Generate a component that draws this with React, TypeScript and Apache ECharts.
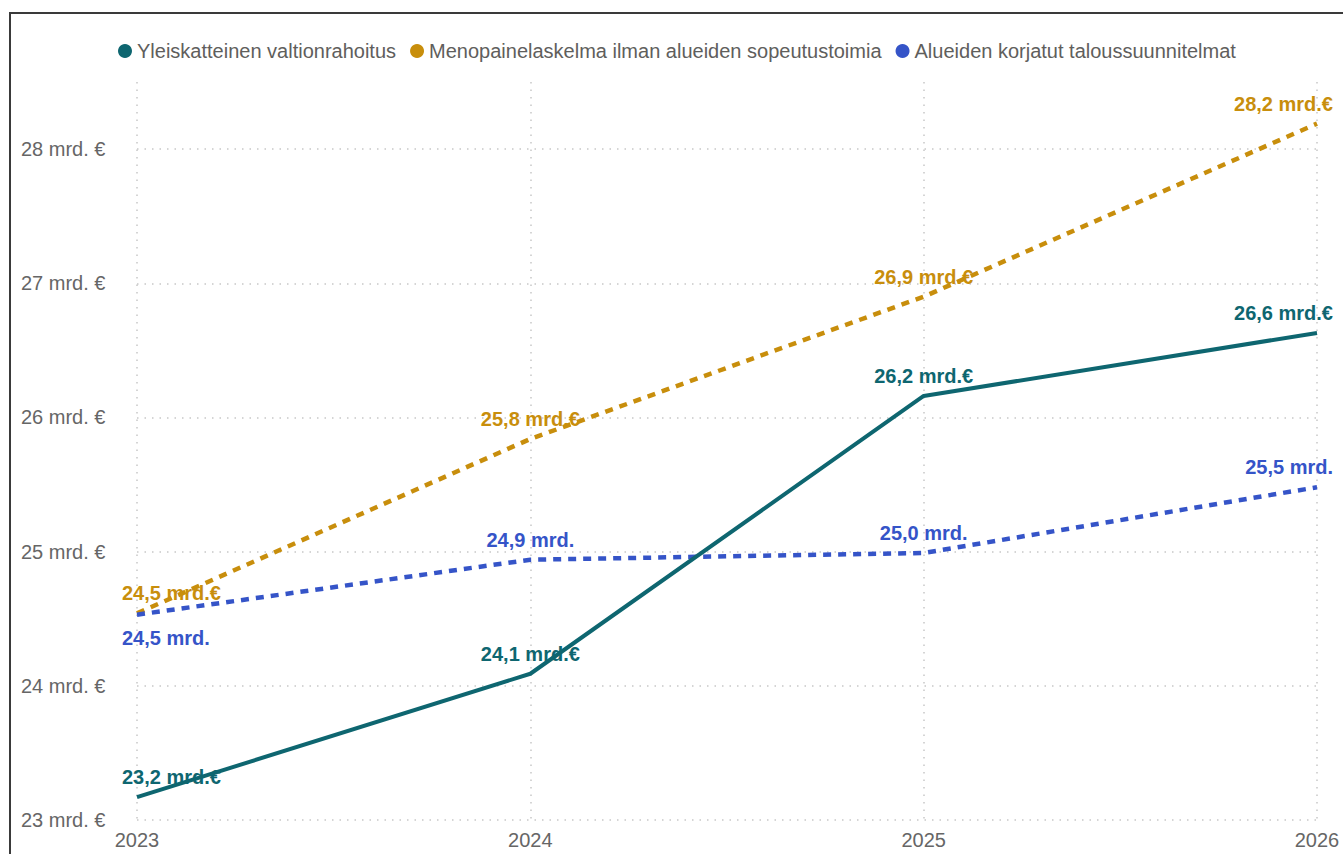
import React, { useEffect, useRef } from "react";
import * as echarts from "echarts";

const years = ["2023", "2024", "2025", "2026"];
const yleiskatteinen = [23.17, 24.09, 26.16, 26.63];
const menopaine = [24.54, 25.84, 26.9, 28.19];
const korjatut = [24.53, 24.94, 24.99, 25.48];
const seriesNames = [
  "Yleiskatteinen valtionrahoitus",
  "Menopainelaskelma ilman alueiden sopeutustoimia",
  "Alueiden korjatut taloussuunnitelmat",
];
const yTicks = [23, 24, 25, 26, 27, 28];

const TEAL = "#0E6670";
const GOLD = "#C88E0C";
const BLUE = "#3554C8";

const fmt = (v: number, suffix: string) => v.toFixed(1).replace(".", ",") + suffix;

function buildData(values: number[], suffix: string, below: boolean) {
  return values.map((v, i) => {
    const label: any = {};
    if (i === 0) {
      label.align = "left";
      label.offset = [-15, 0];
    } else if (i === values.length - 1) {
      label.align = "right";
      label.offset = [16, 0];
    }
    if (below && i === 0) {
      label.position = "bottom";
      label.distance = 13;
    }
    return { value: v, label };
  });
}

export default function App() {
  const ref = useRef<HTMLDivElement>(null);
  useEffect(() => {
    if (!ref.current) return;
    const chart = echarts.init(ref.current, null, { renderer: "svg" });
    const labelBase = (color: string, suffix: string) => ({
      show: true,
      position: "top",
      distance: 10,
      color,
      fontSize: 20,
      fontWeight: "bold",
      fontFamily: "Liberation Sans, Arial, sans-serif",
      formatter: (p: any) => fmt(p.value, suffix),
    });
    chart.setOption({
      animation: false,
      textStyle: { fontFamily: "Liberation Sans, Arial, sans-serif" },
      graphic: [
        {
          type: "rect",
          shape: { x: 10, y: 13, width: 1500, height: 1000 },
          style: { fill: "none", stroke: "#3a3a3a", lineWidth: 2 },
          silent: true,
        },
      ],
      legend: {
        top: 36,
        left: 113,
        icon: "circle",
        itemWidth: 14,
        itemHeight: 14,
        itemGap: 14,
        textStyle: { fontSize: 20, color: "#605E5C", fontFamily: "Liberation Sans, Arial, sans-serif" },
        data: seriesNames,
      },
      grid: { left: 137, right: 26, top: 82, bottom: 34, containLabel: false },
      xAxis: {
        type: "category",
        data: years,
        boundaryGap: false,
        axisLine: { show: false },
        axisTick: { show: false },
        axisLabel: { fontSize: 20, color: "#666666", margin: 10 },
        splitLine: {
          show: true,
          lineStyle: { color: "#c8c8c8", type: [1.5, 6], width: 1.5 },
        },
      },
      yAxis: {
        type: "value",
        min: 23,
        max: 28.5,
        interval: 1,
        axisLine: { show: false },
        axisTick: { show: false },
        axisLabel: {
          fontSize: 20,
          color: "#666666",
          align: "left",
          margin: 116,
          showMaxLabel: false,
          formatter: (v: number) => (yTicks.includes(v) ? `${v} mrd. €` : ""),
        },
        splitLine: {
          show: true,
          showMaxLine: false,
          showMinLine: true,
          lineStyle: { color: "#c8c8c8", type: [1.5, 6], width: 1.5 },
        },
      },
      series: [
        {
          name: seriesNames[1],
          type: "line",
          data: buildData(menopaine, " mrd.€", false),
          symbol: "circle",
          symbolSize: 0.01,
          itemStyle: { color: GOLD },
          lineStyle: { color: GOLD, width: 4.5, type: [8, 7] },
          label: labelBase(GOLD, " mrd.€"),
          z: 2,
        },
        {
          name: seriesNames[2],
          type: "line",
          data: buildData(korjatut, " mrd.", true),
          symbol: "circle",
          symbolSize: 0.01,
          itemStyle: { color: BLUE },
          lineStyle: { color: BLUE, width: 4.5, type: [8, 7] },
          label: labelBase(BLUE, " mrd."),
          z: 2,
        },
        {
          name: seriesNames[0],
          type: "line",
          data: buildData(yleiskatteinen, " mrd.€", false),
          symbol: "circle",
          symbolSize: 0.01,
          itemStyle: { color: TEAL },
          lineStyle: { color: TEAL, width: 4 },
          label: labelBase(TEAL, " mrd.€"),
          z: 3,
        },
      ],
    });
    return () => chart.dispose();
  }, []);
  return (
    <div
      ref={ref}
      style={{ position: "fixed", left: 0, top: 0, width: 1343, height: 854, background: "#fff" }}
    />
  );
}
